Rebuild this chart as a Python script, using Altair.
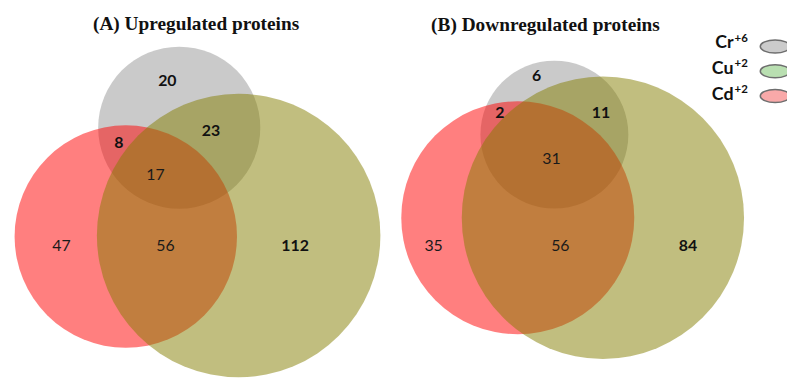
import altair as alt
import pandas as pd

# ---------------- data ----------------
PANELS = ["A", "B"]
TITLES = ["(A) Upregulated proteins", "(B) Downregulated proteins"]
SETS = ["Cr", "Cu", "Cd"]                 # legend order
SET_CHARGES = ["+6", "+2", "+2"]
REGIONS = ["Cr", "Cr&Cd", "Cr&Cu", "Cr&Cu&Cd", "Cd", "Cd&Cu", "Cu"]
UP_COUNTS = [20, 8, 23, 17, 47, 56, 112]
DOWN_COUNTS = [6, 2, 11, 31, 35, 56, 84]

# ---------------- layout / style ----------------
CIRCLE_CENTERS = {
    "A": {"Cr": (181, 127), "Cd": (127, 237), "Cu": (241, 236)},
    "B": {"Cr": (560, 134), "Cd": (523, 218), "Cu": (609, 218)},
}
RADIUS_PER_SQRT = {"A": 9.93, "B": 10.57}   # radius = k * sqrt(set total)
LABEL_POS = {
    "A": [(169, 80), (120, 143), (213, 130), (157, 175), (62, 247), (167, 247), (298, 247)],
    "B": [(542, 75), (505, 112), (607, 112), (557, 159), (438, 247), (566, 247), (695, 247)],
}
BOLD_REGIONS = {"Cr", "Cr&Cd", "Cr&Cu", "Cu"}
TITLE_POS = {"A": (198, 28), "B": (551, 29)}   # alphabetic baseline
DRAW_ORDER = ["Cr", "Cd", "Cu"]
FILL = {"Cr": "#969696", "Cu": "#847e00", "Cd": "#ff0000"}
LEGEND_FILL = {"Cr": "#cbcbcb", "Cu": "#b9dfb1", "Cd": "#f9a9a9"}
LEGEND_SYMBOL_Y = [45, 70, 95]
LEGEND_TEXT_BASE = [47, 73, 99]
LEGEND_TEXT_X = 741
LEGEND_SYMBOL_X = 783
ELLIPSE = "M-1,0A1,0.44,0,1,1,1,0A1,0.44,0,1,1,-1,0Z"

# ---------------- tables ----------------
circle_rows, label_rows = [], []
for p, counts in zip(PANELS, [UP_COUNTS, DOWN_COUNTS]):
    k = RADIUS_PER_SQRT[p]
    for s in SETS:
        total = sum(c for r, c in zip(REGIONS, counts) if s in r.split("&"))
        cx, cy = CIRCLE_CENTERS[p][s]
        # Vega circle symbol: radius = sqrt(size) / 2
        circle_rows.append(dict(panel=p, set=s, total=total, x=cx, y=cy,
                                area=4 * k * k * total,
                                rank=DRAW_ORDER.index(s)))
    for r, c, (lx, ly) in zip(REGIONS, counts, LABEL_POS[p]):
        label_rows.append(dict(panel=p, region=r, count=str(c), x=lx, y=ly,
                               bold=r in BOLD_REGIONS))
circles = pd.DataFrame(circle_rows)
labels = pd.DataFrame(label_rows)
titles = pd.DataFrame([dict(panel=p, title=t, x=TITLE_POS[p][0], y=TITLE_POS[p][1])
                       for p, t in zip(PANELS, TITLES)])
legend = pd.DataFrame([dict(set=s, charge=ch, y=sy, x=LEGEND_SYMBOL_X,
                            tx=LEGEND_TEXT_X, ty=tb, sx=LEGEND_TEXT_X + 1, sty=tb - 7)
                       for s, ch, sy, tb in zip(SETS, SET_CHARGES, LEGEND_SYMBOL_Y, LEGEND_TEXT_BASE)])

X = lambda f: alt.X(f, scale=alt.Scale(domain=[8, 795], nice=False, zero=False), axis=None)
Y = lambda f: alt.Y(f, scale=alt.Scale(domain=[8, 380], nice=False, zero=False, reverse=True), axis=None)

circle_layer = alt.Chart(circles).mark_circle(opacity=0.5).encode(
    x=X("x:Q"), y=Y("y:Q"),
    size=alt.Size("area:Q", scale=None),
    color=alt.Color("set:N", scale=alt.Scale(domain=list(FILL), range=list(FILL.values())), legend=None),
    order=alt.Order("rank:Q"),
)

num_bold = alt.Chart(labels).transform_filter("datum.bold").mark_text(
    font="Lato", fontSize=16, fontWeight="bold", color="#111111", baseline="middle", align="center"
).encode(x=X("x:Q"), y=Y("y:Q"), text="count:N")

num_reg = alt.Chart(labels).transform_filter("!datum.bold").mark_text(
    font="Lato", fontSize=16, fontWeight="normal", color="#1a1a1a", baseline="middle", align="center"
).encode(x=X("x:Q"), y=Y("y:Q"), text="count:N")

title_layer = alt.Chart(titles).mark_text(
    font="Liberation Serif", fontSize=19.5, fontWeight="bold", color="#111111",
    baseline="alphabetic", align="center"
).encode(x=X("x:Q"), y=Y("y:Q"), text="title:N")

leg_sym = alt.Chart(legend).mark_point(shape=ELLIPSE, size=900, filled=True, stroke="#6e6e6e",
                                       strokeWidth=1.5, opacity=1).encode(
    x=X("x:Q"), y=Y("y:Q"),
    fill=alt.Fill("set:N", scale=alt.Scale(domain=list(LEGEND_FILL), range=list(LEGEND_FILL.values())), legend=None),
)
leg_txt = alt.Chart(legend).mark_text(
    font="Lato", fontSize=18, fontWeight="bold", color="#111111", baseline="alphabetic", align="right"
).encode(x=X("tx:Q"), y=Y("ty:Q"), text="set:N")
leg_sup = alt.Chart(legend).mark_text(
    font="Lato", fontSize=11.5, fontWeight="bold", color="#111111", baseline="alphabetic", align="left"
).encode(x=X("sx:Q"), y=Y("sty:Q"), text="charge:N")

chart = alt.layer(circle_layer, num_reg, num_bold, title_layer, leg_sym, leg_txt, leg_sup).properties(
    width=787, height=372, padding=0, autosize=alt.AutoSizeParams(type="none"),
).configure_view(stroke=None)

chart.save("out.html", embed_options={"renderer": "svg", "actions": False})
